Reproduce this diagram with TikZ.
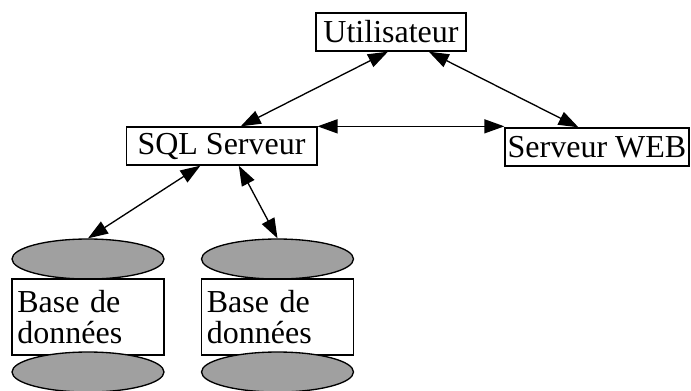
\documentclass[tikz,border=0pt]{standalone}
\usepackage{fontspec}
\setmainfont{Liberation Serif}
\usepackage{tikz}
\usetikzlibrary{calc}
\usetikzlibrary{arrows.meta,shapes.geometric}
\definecolor{disque}{RGB}{160,160,160}
\tikzset{boite/.style={draw, line width=1pt, inner sep=2pt, font=\fontsize{24}{23}\selectfont},
  disk/.style={ellipse, draw, fill=disque, line width=1pt, inner sep=0pt, minimum width=114pt, minimum height=30pt},
  base/.style={boite, align=left, text width=106pt, inner xsep=4pt, minimum height=57pt},
  lien/.style={line width=1pt, {Triangle[length=15pt,width=10.5pt]}-{Triangle[length=15pt,width=10.5pt]}}}

\begin{document}
\begin{tikzpicture}[x=0.75pt,y=-0.75pt]
\useasboundingbox (0,0) rectangle (691,390);

%%% serveurs

\node[boite, minimum width=112.5pt, minimum height=28.5pt] (util) at (391,32) {Utilisateur};
\node[boite, minimum width=143pt, minimum height=28.5pt] (sql) at (221.5,146) {SQL Serveur};
\node[boite, minimum width=138pt, minimum height=28.5pt] (web) at (597,147) {Serveur WEB};

%%% bases

% base 1
\node[disk] (haut1) at (88,259) {};
\node[base] (base1) at (88,317) {Base de\\données};
\node[disk] (bas1) at (88,372) {};

% base 2
\node[disk] (haut2) at (277.5,259) {};
\node[base] (base2) at (277.5,317) {Base de\\données};
\node[disk] (bas2) at (277.5,372) {};

%%% liens

\draw[lien] ($(util.south west)!0.48!(util.south east)$) -- ($(sql.north west)!0.6!(sql.north east)$);
\draw[lien] ($(util.south west)!0.75!(util.south east)$) -- ($(web.north west)!0.4!(web.north east)$);
\draw[lien] (sql.north east) -- (sql.north east -| web.west);
\draw[lien] ($(sql.south west)!0.39!(sql.south east)$) -- (haut1.north);
\draw[lien] ($(sql.south west)!0.59!(sql.south east)$) -- (haut2.north);

\end{tikzpicture}
\end{document}
